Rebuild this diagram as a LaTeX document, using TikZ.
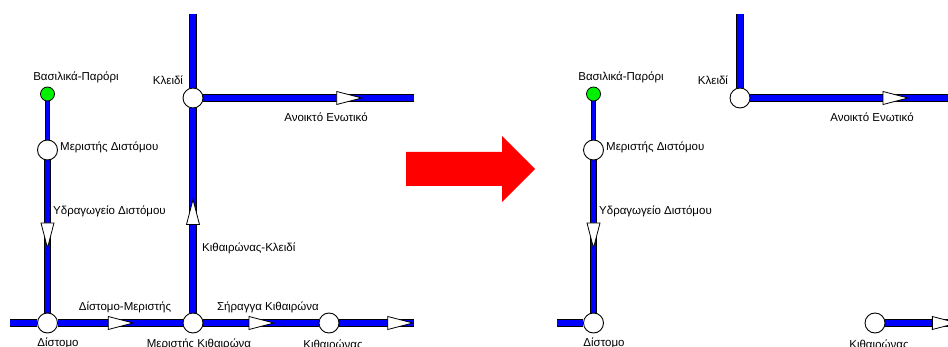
\documentclass[tikz,border=0pt]{standalone}
\usepackage{fontspec}
\setmainfont{Liberation Sans}
\definecolor{srcgreen}{RGB}{0,240,0}
\pgfdeclarelayer{bg}
\pgfsetlayers{bg,main}
\begin{document}
\begin{tikzpicture}[x=1pt,y=-1pt,
  font=\fontsize{11.5}{13}\selectfont,
  pipe/.style={draw=black,line width=0.9pt,double=blue,double distance=5.8pt},
  thinpipe/.style={draw=black,line width=0.8pt,double=blue,double distance=2.6pt},
  station/.style={circle,draw=black,line width=0.9pt,fill=white,minimum size=20pt,inner sep=0pt},
  source/.style={circle,draw=black,line width=0.8pt,fill=srcgreen,minimum size=14pt,inner sep=0pt},
  lbl/.style={inner sep=0pt},
  flowtri/.pic={\filldraw[fill=white,draw=black,line width=0.8pt] (-12,-6.5) -- (13,0) -- (-12,6.5) -- cycle;}
]
\useasboundingbox (0,0) rectangle (948,347);

% ---------- left panel ----------
\node[source]  (bpA) at (47.5,94) {};
\node[station] (mdA) at (47.5,150) {};
\node[station] (dsA) at (47.5,323) {};
\node[station] (mkA) at (193,323) {};
\node[station] (klA) at (193,98) {};
\node[station] (kiA) at (329,323) {};
\coordinate (lA) at (10,323);
\coordinate (rA) at (414,323);
\coordinate (tA) at (193,14);
\coordinate (eA) at (414,98);

\begin{pgfonlayer}{bg}
\draw[thinpipe] (bpA) -- (mdA);
\draw[pipe] (mdA) -- (dsA);
\draw[pipe] (lA) -- (dsA);
\draw[pipe] (dsA) -- (mkA);
\draw[pipe] (mkA) -- (kiA);
\draw[pipe] (kiA) -- (rA);
\draw[pipe] (mkA) -- (klA);
\draw[pipe] (klA) -- (tA);
\draw[pipe] (klA) -- (eA);
\end{pgfonlayer}

\path (mdA) -- pic[pos=0.49,sloped]{flowtri} (dsA);
\path (dsA) -- pic[pos=0.5,sloped]{flowtri} (mkA);
\path (mkA) -- pic[pos=0.5,sloped]{flowtri} (kiA);
\path (kiA) -- pic[pos=0.81,sloped]{flowtri} (rA);
\path (mkA) -- pic[pos=0.49,sloped]{flowtri} (klA);
\path (klA) -- pic[pos=0.69,sloped]{flowtri} (eA);

\node[lbl] (tbpA) at (76,77) {Βασιλικά-Παρόρι};
\node[lbl] (tklA) at (168,80) {Κλειδί};
\node[lbl] (taeA) at (326,117) {Ανοικτό Ενωτικό};
\node[lbl,anchor=west] (tmdA) at (60,147) {Μεριστής Διστόμου};
\node[lbl,anchor=west] (tydA) at (53,211) {Υδραγωγείο Διστόμου};
\node[lbl,anchor=west] (tkkA) at (202,248) {Κιθαιρώνας-Κλειδί};
\node[lbl] (tdmA) at (125,307) {Δίστομο-Μεριστής};
\node[lbl] (tskA) at (268,307) {Σήραγγα Κιθαιρώνα};
\node[lbl] (tdsA) at (58,343) {Δίστομο};
\node[lbl] (tmkA) at (199,344) {Μεριστής Κιθαιρώνα};
\node[lbl] (tkiA) at (333,345) {Κιθαιρώνας};

% ---------- red arrow ----------
\fill[red] (406,152) -- (502,152) -- (502,136) -- (535,169) -- (502,202) -- (502,186) -- (406,186) -- cycle;

% ---------- right panel ----------
\node[source]  (bpB) at (593.5,94) {};
\node[station] (mdB) at (593.5,150) {};
\node[station] (dsB) at (593.5,323) {};
\node[station] (klB) at (740,98) {};
\node[station] (kiB) at (875,323) {};
\coordinate (lB) at (557,323);
\coordinate (tB) at (740,14);
\coordinate (eB) at (960,98);
\coordinate (rB) at (960,323);

\begin{pgfonlayer}{bg}
\draw[thinpipe] (bpB) -- (mdB);
\draw[pipe] (mdB) -- (dsB);
\draw[pipe] (lB) -- (dsB);
\draw[pipe] (klB) -- (tB);
\draw[pipe] (klB) -- (eB);
\draw[pipe] (kiB) -- (rB);
\end{pgfonlayer}

\path (mdB) -- pic[pos=0.49,sloped]{flowtri} (dsB);
\path (klB) -- pic[pos=0.69,sloped]{flowtri} (eB);
\path (kiB) -- pic[pos=0.79,sloped]{flowtri} (rB);

\node[lbl] (tbpB) at (621,77) {Βασιλικά-Παρόρι};
\node[lbl] (tklB) at (713,80) {Κλειδί};
\node[lbl] (taeB) at (872,117) {Ανοικτό Ενωτικό};
\node[lbl,anchor=west] (tmdB) at (606,147) {Μεριστής Διστόμου};
\node[lbl,anchor=west] (tydB) at (599,211) {Υδραγωγείο Διστόμου};
\node[lbl] (tdsB) at (604,343) {Δίστομο};
\node[lbl] (tkiB) at (879,345) {Κιθαιρώνας};
\end{tikzpicture}
\end{document}
